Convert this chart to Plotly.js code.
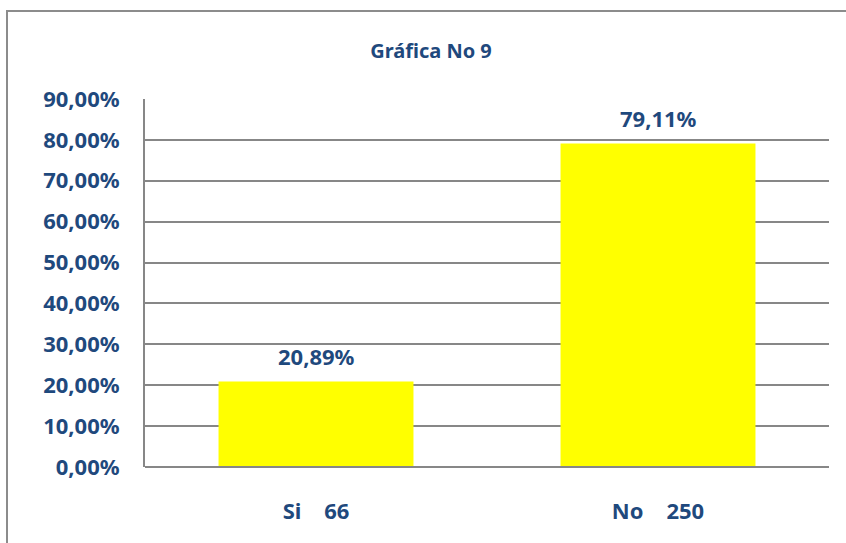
<!DOCTYPE html>
<html>
<head>
<meta charset="utf-8">
<script src="https://cdn.plot.ly/plotly-3.0.1.min.js"></script>
<style>html,body{margin:0;padding:0;background:#fff;}#chart{width:846px;height:543px;}</style>
</head>
<body>
<div id="chart"></div>
<script>
var categories = ["Si\u00a0\u00a0\u00a0\u00a066", "No\u00a0\u00a0\u00a0\u00a0250"];
var percentages = [20.89, 79.11];
var valueLabels = ["20,89%", "79,11%"];
var tickValues = [0, 10, 20, 30, 40, 50, 60, 70, 80, 90];
var tickLabels = ["0,00%", "10,00%", "20,00%", "30,00%", "40,00%", "50,00%", "60,00%", "70,00%", "80,00%", "90,00%"];

var blue = "#1F497D";
var fontFam = "Noto Sans, Open Sans, sans-serif";
var L = 145, R = 829, T = 99, B = 467;
function px2x(p){ return (p - L) / (R - L); }
function px2y(p){ return (B - p) / (B - T); }

var trace = {
  type: "bar",
  x: categories,
  y: percentages,
  marker: {color: "#FFFF00", line: {width: 0}},
  hoverinfo: "none"
};

var annotations = categories.map(function(c, i){
  return {x: c, y: percentages[i], xref: "x", yref: "y", text: "<b>" + valueLabels[i] + "</b>",
          showarrow: false, yanchor: "bottom", yshift: 9,
          font: {family: fontFam, size: 22, color: blue}};
});

var layout = {
  width: 846, height: 543,
  margin: {l: L, r: 846 - R, t: T, b: 543 - B, pad: 0},
  paper_bgcolor: "#fff", plot_bgcolor: "#fff",
  showlegend: false,
  bargap: 0.43,
  title: {text: "<b>Gráfica No 9</b>", font: {family: fontFam, size: 20, color: blue},
          xref: "container", yref: "container", x: 431/846, y: 1 - 51/543, xanchor: "center", yanchor: "middle"},
  xaxis: {
    showgrid: false, zeroline: false, showline: false,
    ticks: "", ticklabelstandoff: 29,
    tickfont: {family: fontFam, size: 22, color: blue, weight: "bold"}
  },
  yaxis: {
    range: [0, 90], tickvals: tickValues, ticktext: tickLabels,
    showgrid: true, gridcolor: "#878787", gridwidth: 2,
    zeroline: false, showline: true, linecolor: "#878787", linewidth: 2,
    ticks: "", ticklabelstandoff: 19,
    tickfont: {family: fontFam, size: 22, color: blue, weight: "bold"}
  },
  annotations: annotations,
  shapes: [
    {type: "rect", xref: "paper", yref: "paper", x0: px2x(7), x1: px2x(900), y0: px2y(600), y1: px2y(11),
     line: {color: "#8C8C8C", width: 2}, fillcolor: "rgba(0,0,0,0)", layer: "below"},
    {type: "line", xref: "paper", yref: "paper", x0: 0, x1: 1, y0: 0, y1: 0,
     line: {color: "#878787", width: 2}, layer: "above"}
  ]
};

Plotly.newPlot("chart", [trace], layout, {displayModeBar: false, staticPlot: true});
</script>
</body>
</html>
